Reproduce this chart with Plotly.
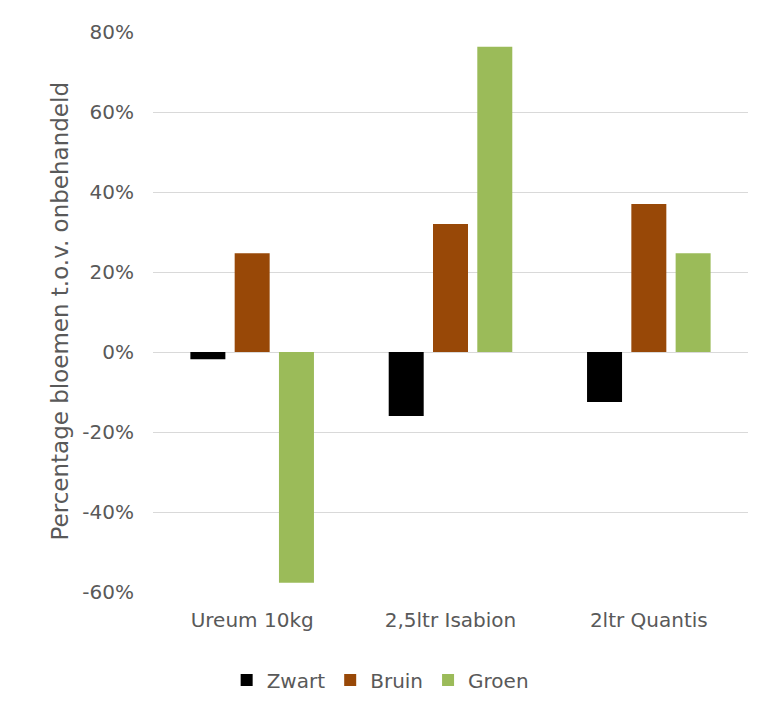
import plotly.graph_objects as go

categories = ["Ureum 10kg", "2,5ltr Isabion", "2ltr Quantis"]
series_names = ["Zwart", "Bruin", "Groen"]
zwart = [-1.8, -16.0, -12.5]
bruin = [24.7, 32.0, 37.0]
groen = [-57.7, 76.3, 24.7]
colors = ["#000000", "#984807", "#9BBB59"]
y_ticks = [-60, -40, -20, 0, 20, 40, 60, 80]

FONT = "DejaVu Sans, Arial, sans-serif"
TXT = "#595959"

fig = go.Figure()
for name, vals, col in zip(series_names, [zwart, bruin, groen], colors):
    fig.add_trace(go.Bar(name=name, x=categories, y=vals, marker=dict(color=col, line=dict(width=0))))

fig.update_layout(
    width=768, height=711,
    margin=dict(l=153, r=20, t=32, b=119),
    paper_bgcolor="white", plot_bgcolor="white",
    barmode="group", bargap=0.33, bargroupgap=0.21,
    font=dict(family=FONT, size=20, color=TXT),
    showlegend=True,
    legend=dict(orientation="h", xref="container", yref="container",
                x=0.495, xanchor="center", y=1 - 680 / 711, yanchor="middle",
                font=dict(size=20, color=TXT), itemwidth=30, tracegroupgap=0),
    xaxis=dict(showgrid=False, showline=False, zeroline=False, ticks="",
               tickfont=dict(size=20, color=TXT), ticklabelstandoff=14),
    yaxis=dict(range=[-60, 80], tickvals=y_ticks, ticktext=[f"{v}%" for v in y_ticks],
               showgrid=True, gridcolor="#D9D9D9", gridwidth=1.3,
               zeroline=True, zerolinecolor="#D9D9D9", zerolinewidth=1.3,
               showline=False, ticks="", tickfont=dict(size=20, color=TXT),
               ticklabelstandoff=18),
    annotations=[dict(text="Percentage bloemen t.o.v. onbehandeld", textangle=-90,
                      xref="paper", yref="paper", x=-(153 - 59) / 595, y=(592 - 311.5) / 560,
                      xanchor="center", yanchor="middle", showarrow=False,
                      font=dict(size=23, color=TXT, family=FONT))],
)

fig.write_html("out.html")
